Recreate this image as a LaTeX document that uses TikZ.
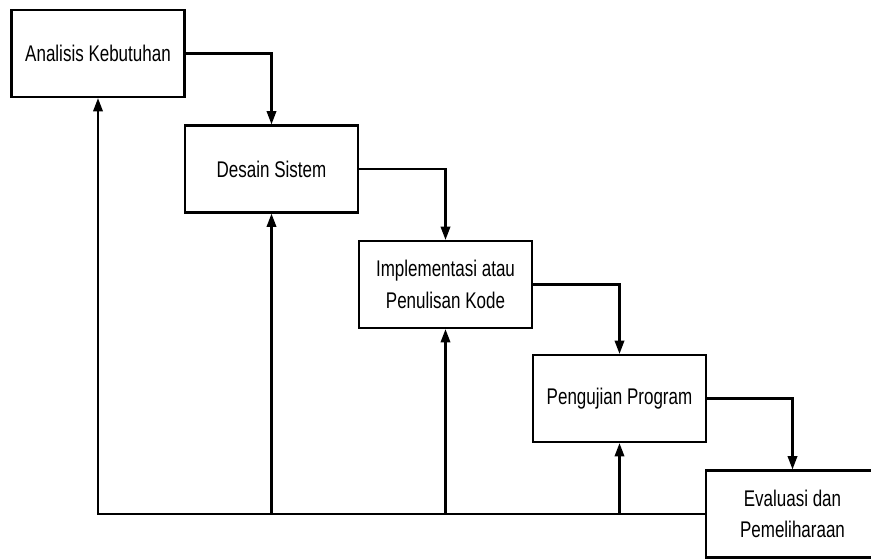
\documentclass[tikz,border=0pt]{standalone}
\usepackage{fontspec}
\setmainfont[FakeStretch=0.75]{Liberation Sans}
\usetikzlibrary{arrows.meta}
\tikzset{
  tahap/.style={draw, line width=1.8pt, minimum width=130pt, minimum height=65pt,
    inner sep=0pt, align=center, font=\fontsize{17}{23.5}\selectfont},
  alur/.style={line width=1.8pt, -{Triangle[width=7pt,length=10pt]}}
}
\begin{document}
\begin{tikzpicture}[x=0.75pt, y=-0.75pt]
\useasboundingbox (0,0) rectangle (871,558);
% tahapan
\node[tahap] (analisis) at (98,53.5) {Analisis Kebutuhan};
\node[tahap] (desain) at (271.5,169) {Desain Sistem};
\node[tahap] (implementasi) at (445.5,284.5) {Implementasi atau\\Penulisan Kode};
\node[tahap] (pengujian) at (619.5,398.5) {Pengujian Program};
\node[tahap] (evaluasi) at (792.5,514) {Evaluasi dan\\Pemeliharaan};
% alur maju
\draw[alur] (analisis.east) -| (desain.north);
\draw[alur] (desain.east) -| (implementasi.north);
\draw[alur] (implementasi.east) -| (pengujian.north);
\draw[alur] (pengujian.east) -| (evaluasi.north);
% umpan balik
\draw[alur] (evaluasi.west) -| (analisis.south);
\draw[alur] (desain |- evaluasi.west) -- (desain.south);
\draw[alur] (implementasi |- evaluasi.west) -- (implementasi.south);
\draw[alur] (pengujian |- evaluasi.west) -- (pengujian.south);
\end{tikzpicture}
\end{document}
